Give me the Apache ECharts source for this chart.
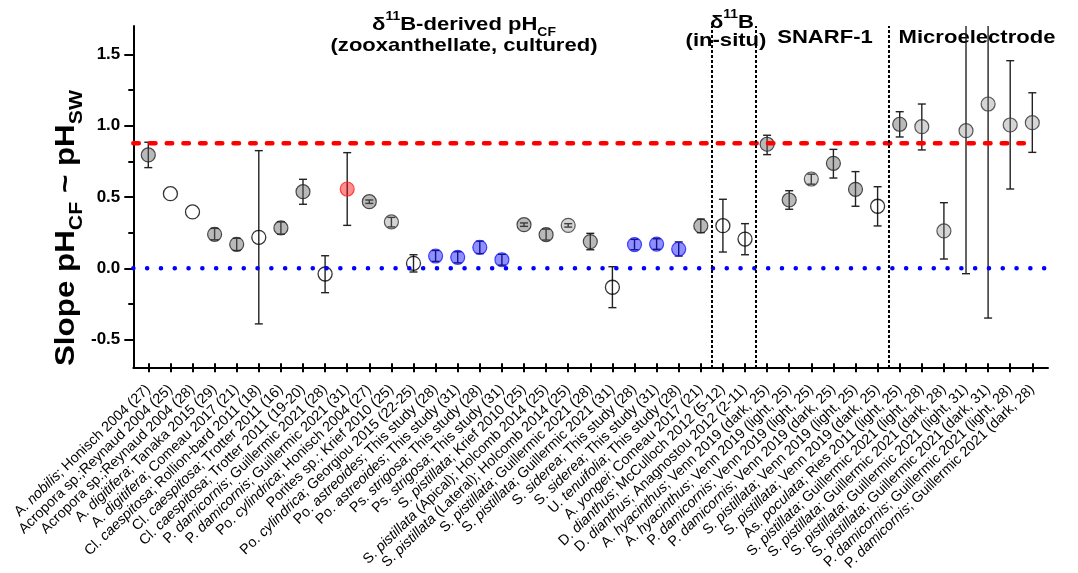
<!DOCTYPE html>
<html>
<head>
<meta charset="utf-8">
<script src="https://cdn.jsdelivr.net/npm/echarts@6/dist/echarts.min.js"></script>
<style>html,body{margin:0;padding:0;background:#fff}#c{width:1078px;height:573px}</style>
</head>
<body>
<div id="c"></div>
<script>
// ---------- DATA ----------
const categories = [
  'A. _nobilis_; Honisch 2004 (27)',
  'Acropora sp.;Reynaud 2004 (25)',
  'Acropora sp.;Reynaud 2004 (28)',
  'A. _digitifera_; Tanaka 2015 (29)',
  'A. _digitifera_; Comeau 2017 (21)',
  'Cl. _caespitosa_; Rollion-bard 2011 (18)',
  'Cl. _caespitosa_; Trotter 2011 (16)',
  'Cl. _caespitosa_; Trotter 2011 (19-20)',
  'P. _damicornis_; Guillermic 2021 (28)',
  'P. _damicornis_; Guillermic 2021 (31)',
  'Po. _cylindrica_; Honisch 2004 (27)',
  'Porites sp.; Krief 2010 (25)',
  'Po. _cylindrica_; Georgiou 2015 (22-25)',
  'Po. _astreoides_; This study (28)',
  'Po. _astreoides_; This study (31)',
  'Ps. _strigosa_; This study (28)',
  'Ps. _strigosa_; This study (31)',
  'S. _pistillata_; Krief 2010 (25)',
  'S. _pistillata_ (Apical); Holcomb 2014 (25)',
  'S. _pistillata_ (Lateral); Holcomb 2014 (25)',
  'S. _pistillata_; Guillermic 2021 (28)',
  'S. _pistillata_; Guillermic 2021 (31)',
  'S. _siderea_; This study (28)',
  'S. _siderea_; This study (31)',
  'U. _tenuifolia_; This study (28)',
  'A. _yongei_; Comeau 2017 (21)',
  'D. _dianthus_; McCulloch 2012 (5-12)',
  'D. _dianthus_; Anagnostou 2012 (2-11)',
  'A. _hyacinthus_; Venn 2019 (dark, 25)',
  'A. _hyacinthus_; Venn 2019 (light, 25)',
  'P. _damicornis_; Venn 2019 (light, 25)',
  'P. _damicornis_; Venn 2019 (dark, 25)',
  'S. _pistillata_; Venn 2019 (light, 25)',
  'S. _pistillata_; Venn 2019 (dark, 25)',
  'As. _poculata_; Ries 2011 (light, 25)',
  'S. _pistillata_; Guillermic 2021 (light, 28)',
  'S. _pistillata_; Guillermic 2021 (dark, 28)',
  'S. _pistillata_; Guillermic 2021 (light, 31)',
  'S. _pistillata_; Guillermic 2021 (dark, 31)',
  'P. _damicornis_; Guillermic 2021 (light, 28)',
  'P. _damicornis_; Guillermic 2021 (dark, 28)'
];
const slopes = [0.795,0.523,0.395,0.238,0.168,0.217,0.283,0.537,-0.040,0.556,
  0.467,0.325,0.035,0.086,0.077,0.147,0.060,0.306,0.236,0.301,
  0.187,-0.133,0.166,0.170,0.135,0.297,0.299,0.205,0.870,0.479,
  0.626,0.736,0.554,0.435,1.010,0.993,0.262,0.965,1.152,1.005,1.021];
const errLow = [0.706,0.523,0.395,0.200,0.125,-0.390,0.240,0.449,-0.171,0.301,
  0.455,0.290,-0.026,0.048,0.038,0.103,0.022,0.294,0.198,0.289,
  0.130,-0.276,0.130,0.133,0.086,0.250,0.114,0.095,0.797,0.414,
  0.590,0.633,0.435,0.297,0.921,0.830,0.065,-0.038,-0.349,0.556,0.813];
const errHigh = [0.884,0.523,0.395,0.280,0.210,0.825,0.325,0.624,0.088,0.811,
  0.479,0.357,0.095,0.125,0.116,0.190,0.098,0.318,0.275,0.313,
  0.245,0.011,0.203,0.207,0.185,0.345,0.484,0.313,0.933,0.544,
  0.660,0.834,0.678,0.572,1.098,1.152,0.460,1.968,2.653,1.456,1.231];
// marker kind: g = grey, l = light grey, o = open, b = blue (this study), r = red
const kinds = ['g','o','o','g','g','o','g','g','o','r',
  'g','l','o','b','b','b','b','g','g','l',
  'g','o','b','b','b','g','o','o','g','g',
  'l','g','g','o','g','l','l','l','l','l','l'];
const groupSizes = [26, 2, 6, 7]; // δ11B cultured, δ11B in-situ, SNARF-1, Microelectrode
const seawaterSlope = 0.877;   // red dashed reference
const zeroSlope = 0;           // blue dotted reference
const yTickLabels = ['-0.5','0.0','0.5','1.0','1.5'];

// ---------- STYLE ----------
const FONT = "'Liberation Sans', Arial, Helvetica, sans-serif";
const kindStyle = {
  g: {color:'rgba(95,95,95,0.55)', borderColor:'#222', borderWidth:1.2},
  l: {color:'rgba(125,125,125,0.4)', borderColor:'#333', borderWidth:1.2},
  o: {color:'rgba(255,255,255,0)', borderColor:'#000', borderWidth:1.3},
  b: {color:'rgba(0,0,255,0.55)', borderColor:'#1a1aff', borderWidth:1.2},
  r: {color:'rgba(255,0,0,0.55)', borderColor:'#ff2020', borderWidth:1.2}
};

const xMinV = -0.6787, xMaxV = 40.71;
const boundaries = [];
groupSizes.reduce((acc, n, k) => { if (k < groupSizes.length - 1) boundaries.push(acc + n - 0.5); return acc + n; }, 0);

function fmtLabel(s) {
  return s.split('_').map((p, k) => p ? (k % 2 ? '{i|' + p + '}' : '{n|' + p + '}') : '').join('');
}

const chart = echarts.init(document.getElementById('c'), null, {renderer:'canvas'});
const option = {
  animation: false,
  backgroundColor: '#fff',
  grid: [
    {left:137.25, right:34.65, top:25.88, bottom:204.9},
    {left:133.3, right:30, top:25.88, bottom:204.9},
    {left:133.3, right:30, top:54.4, bottom:233.4}
  ],
  xAxis: [
    {gridIndex:0, type:'category', data:categories, boundaryGap:true,
     axisLine:{show:false, onZero:false},
     axisTick:{show:true, alignWithLabel:true, length:9, lineStyle:{width:2, color:'#000'}},
     axisLabel:{interval:0, rotate:44, margin:24, color:'#000', formatter:fmtLabel,
       rich:{n:{fontSize:14.3, fontFamily:FONT, color:'#000'}, i:{fontSize:14.3, fontFamily:FONT, fontStyle:'italic', color:'#000'}}},
     splitLine:{show:false}},
    {gridIndex:1, type:'value', min:xMinV, max:xMaxV,
     axisLine:{show:true, onZero:false, lineStyle:{width:2, color:'#000'}},
     axisTick:{show:false}, axisLabel:{show:false}, splitLine:{show:false}},
    {gridIndex:2, type:'value', show:false}
  ],
  yAxis: [
    {gridIndex:0, type:'value', min:-0.7, max:1.7, show:false},
    {gridIndex:1, type:'value', min:-0.7, max:1.7,
     axisLine:{show:true, onZero:false, lineStyle:{width:2, color:'#000'}},
     axisTick:{show:false}, axisLabel:{show:false}, splitLine:{show:false}},
    {gridIndex:2, type:'value', min:-0.5, max:1.5, interval:0.5,
     axisLine:{show:false, onZero:false},
     axisTick:{show:true, length:9, lineStyle:{width:2, color:'#000'}},
     minorTick:{show:true, splitNumber:2, length:5, lineStyle:{width:2, color:'#000'}},
     axisLabel:{margin:13, fontSize:17, fontWeight:'bold', fontFamily:FONT, color:'#000',
       formatter: v => yTickLabels[Math.round((v + 0.5) / 0.5)]},
     splitLine:{show:false}}
  ],
  graphic: [
    {type:'text', x:464, y:25, scaleX:1.16, style:{text:'{b|δ}{sup|11}{b|B-derived pH}{sub|CF}', align:'center', verticalAlign:'middle',
      rich:{b:{fontSize:19, fontWeight:'bold', fontFamily:FONT, fill:'#000', lineHeight:28},
            sup:{fontSize:12, fontWeight:'bold', fontFamily:FONT, fill:'#000', verticalAlign:'top', lineHeight:12},
            sub:{fontSize:12, fontWeight:'bold', fontFamily:FONT, fill:'#000', verticalAlign:'bottom', lineHeight:18}}}},
    {type:'text', x:464, y:46, scaleX:1.16, style:{text:'(zooxanthellate, cultured)', align:'center', verticalAlign:'middle',
      fontSize:19, fontWeight:'bold', fontFamily:FONT, fill:'#000'}},
    {type:'text', x:732, y:23, scaleX:1.16, style:{text:'{b|δ}{sup|11}{b|B}', align:'center', verticalAlign:'middle',
      rich:{b:{fontSize:19, fontWeight:'bold', fontFamily:FONT, fill:'#000', lineHeight:28},
            sup:{fontSize:12, fontWeight:'bold', fontFamily:FONT, fill:'#000', verticalAlign:'top', lineHeight:12}}}},
    {type:'text', x:726, y:41, scaleX:1.16, style:{text:'(in-situ)', align:'center', verticalAlign:'middle',
      fontSize:19, fontWeight:'bold', fontFamily:FONT, fill:'#000'}},
    {type:'text', x:825, y:38, scaleX:1.16, style:{text:'SNARF-1', align:'center', verticalAlign:'middle',
      fontSize:19, fontWeight:'bold', fontFamily:FONT, fill:'#000'}},
    {type:'text', x:977, y:38, scaleX:1.16, style:{text:'Microelectrode', align:'center', verticalAlign:'middle',
      fontSize:19, fontWeight:'bold', fontFamily:FONT, fill:'#000'}},
    {type:'text', x:66, y:228, rotation:Math.PI/2, scaleX:1.12, style:{text:'{b|Slope pH}{s|CF}{b| ~ pH}{s|SW}', align:'center', verticalAlign:'middle',
      rich:{b:{fontSize:28, fontWeight:'bold', fontFamily:FONT, fill:'#000', lineHeight:40},
            s:{fontSize:19, fontWeight:'bold', fontFamily:FONT, fill:'#000', verticalAlign:'bottom', lineHeight:26}}}}
  ],
  series: [
    {type:'line', xAxisIndex:1, yAxisIndex:1, silent:true, symbol:'none', clip:false,
     data:[[xMinV, zeroSlope],[xMaxV, zeroSlope]],
     lineStyle:{color:'#0000ff', width:4.5, type:[0.1, 13.7], cap:'round'},
     markLine:{silent:true, symbol:['none','none'], label:{show:false},
       lineStyle:{color:'#000', width:2, type:[3,2]},
       data: boundaries.map(b => ({xAxis:b}))}},
    {type:'line', xAxisIndex:1, yAxisIndex:1, silent:true, symbol:'none', clip:false,
     data:[[xMinV, seawaterSlope],[categories.length - 1, seawaterSlope]],
     lineStyle:{color:'#ff0000', width:4.5, type:[5.5, 11.2], cap:'round'}},
    {type:'custom', xAxisIndex:1, yAxisIndex:1, silent:true,
     data: slopes.map((v, i) => [i, errLow[i], errHigh[i]]),
     renderItem: function (params, api) {
       const x = api.value(0), lo = api.value(1), hi = api.value(2);
       if (hi - lo < 1e-6) return null;
       const cs = params.coordSys;
       const pLo = api.coord([x, lo]), pHi = api.coord([x, hi]);
       const top = cs.y, bot = cs.y + cs.height;
       const yTop = Math.max(pHi[1], top), yBot = Math.min(pLo[1], bot);
       const st = {stroke:'#222', lineWidth:1.4};
       const hw = 4;
       const ch = [{type:'line', shape:{x1:pLo[0], y1:yBot, x2:pLo[0], y2:yTop}, style:st}];
       if (pHi[1] >= top) ch.push({type:'line', shape:{x1:pHi[0]-hw, y1:pHi[1], x2:pHi[0]+hw, y2:pHi[1]}, style:st});
       if (pLo[1] <= bot) ch.push({type:'line', shape:{x1:pLo[0]-hw, y1:pLo[1], x2:pLo[0]+hw, y2:pLo[1]}, style:st});
       return {type:'group', children:ch};
     }},
    {type:'scatter', xAxisIndex:1, yAxisIndex:1, symbol:'circle', symbolSize:14,
     data: slopes.map((v, i) => ({value:[i, v], itemStyle:kindStyle[kinds[i]]}))}
  ]
};
chart.setOption(option);
</script>
</body>
</html>
